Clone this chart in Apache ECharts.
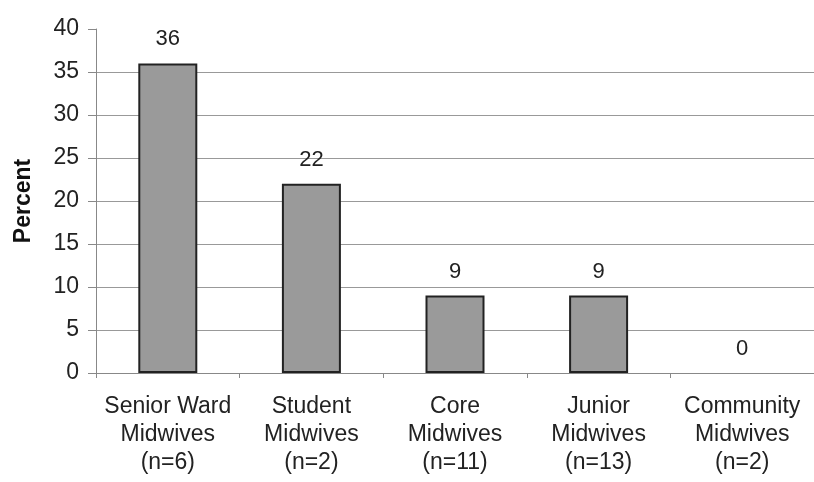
<!DOCTYPE html>
<html>
<head>
<meta charset="utf-8">
<script src="https://cdn.jsdelivr.net/npm/echarts@6/dist/echarts.min.js"></script>
<style>
html,body{margin:0;padding:0;background:#fff;}
#chart{width:814px;height:482px;}
</style>
</head>
<body>
<div id="chart"></div>
<script>
var categories = ['Senior Ward\nMidwives\n(n=6)', 'Student\nMidwives\n(n=2)', 'Core\nMidwives\n(n=11)', 'Junior\nMidwives\n(n=13)', 'Community\nMidwives\n(n=2)'];
var percents = [36, 22, 9, 9, 0];

var myChart = echarts.init(document.getElementById('chart'));

// no outline on an empty bar
var barData = percents.map(function (v) {
    return v === 0 ? {value: v, itemStyle: {borderWidth: 0}} : v;
});

var option = {
    animation: false,
    grid: {left: 96, right: 0, top: 29, bottom: 109},
    xAxis: {
        type: 'category',
        data: categories,
        axisLine: {lineStyle: {color: '#888', width: 1}},
        axisTick: {show: true, length: 5, lineStyle: {color: '#888'}},
        axisLabel: {
            color: '#222', fontFamily: 'Liberation Sans', fontSize: 23,
            lineHeight: 28, margin: 20, interval: 0
        }
    },
    yAxis: {
        type: 'value',
        min: 0, max: 40, interval: 5,
        name: 'Percent',
        nameLocation: 'middle',
        nameGap: 61,
        nameTextStyle: {color: '#111', fontFamily: 'Liberation Sans', fontSize: 23, fontWeight: 'bold'},
        axisLine: {show: true, lineStyle: {color: '#888'}},
        axisTick: {show: true, length: 8, lineStyle: {color: '#888'}},
        axisLabel: {color: '#222', fontFamily: 'Liberation Sans', fontSize: 23, margin: 17},
        splitLine: {
            show: true,
            lineStyle: {color: ['#999', '#999', '#999', '#999', '#999', '#999', '#999', '#999', 'transparent'], width: 1}
        }
    },
    series: [{
        type: 'bar',
        data: barData,
        barWidth: 59,
        itemStyle: {color: '#9a9a9a', borderColor: '#222', borderWidth: 2},
        label: {
            show: true, position: 'top', distance: 13,
            color: '#222', fontFamily: 'Liberation Sans', fontSize: 22
        }
    }]
};
myChart.setOption(option);
</script>
</body>
</html>
